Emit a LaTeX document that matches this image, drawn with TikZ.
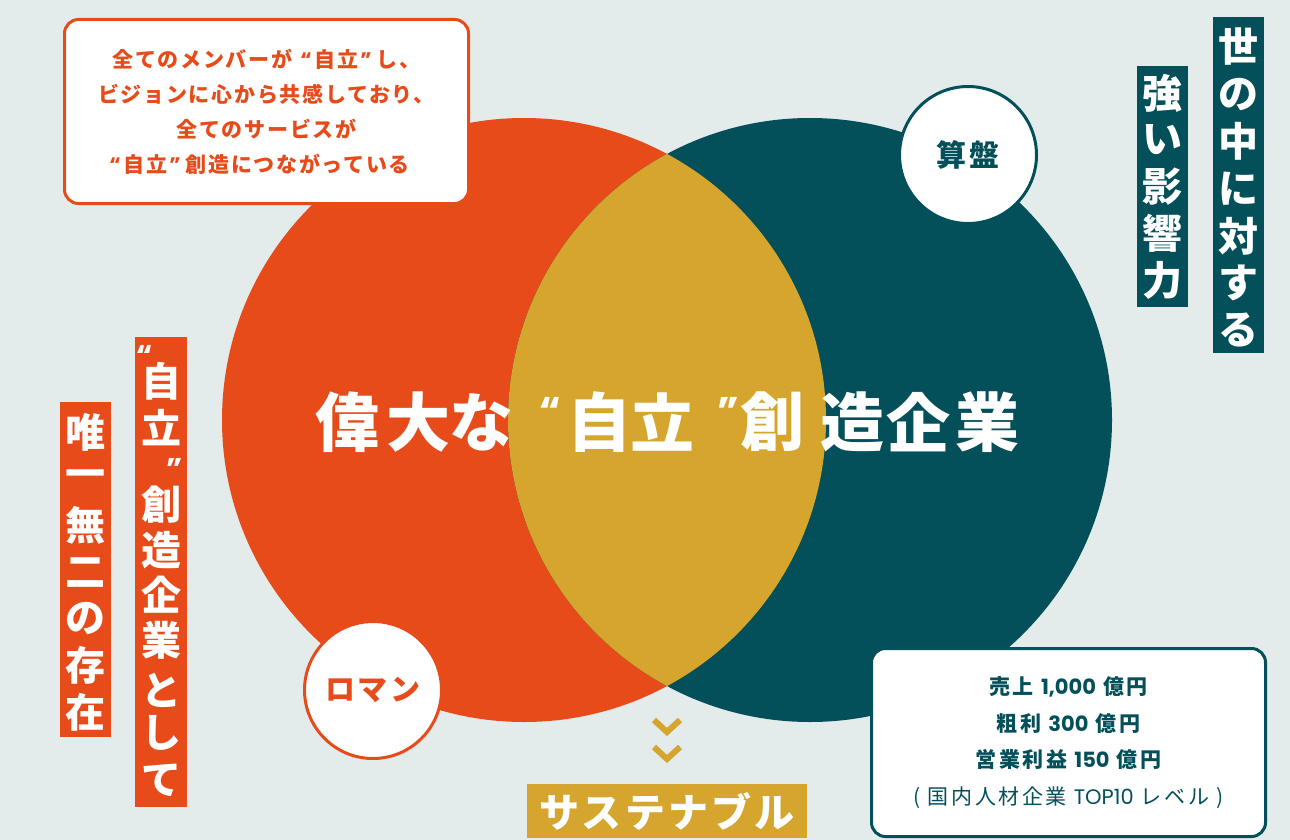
\documentclass[tikz,border=0pt]{standalone}
\usepackage{fontspec}
\setmainfont{Noto Sans CJK JP}
\newfontfamily\widejp{Noto Sans CJK JP}[LetterSpace=8]
\newfontfamily\widerjp{Noto Sans CJK JP}[LetterSpace=12]
\newfontfamily\latin{Poppins}
\newcommand{\openq}{{\latin “}}
\newcommand{\closeq}{{\latin ”}}
\definecolor{romanorange}{HTML}{E84B1A}
\definecolor{sorobanteal}{HTML}{03505A}
\definecolor{lensgold}{HTML}{D5A52D}
\definecolor{paper}{HTML}{E3EBEB}

\begin{document}
\begin{tikzpicture}[x=1pt, y=-1pt,
        tagcircle/.style={circle, draw=#1, fill=white, line width=3pt, minimum size=137pt, inner sep=0pt, text=#1, font=\widejp\bfseries\fontsize{30}{30}\selectfont},
        notebox/.style={draw=#1, fill=white, line width=3pt, rounded corners=14pt, text=#1, align=center, inner sep=0pt},
        vbar/.style={fill=#1, inner sep=0pt, minimum width=51pt},
        vchar/.style={text=white, inner sep=0pt, font=\bfseries\fontsize{40}{40}\selectfont},
        vquote/.style={text=white, inner sep=0pt, anchor=north, font=\bfseries\fontsize{30}{30}\selectfont},
        titlechar/.style={text=white, inner sep=0pt, font=\bfseries\fontsize{64}{64}\selectfont},
        titlequote/.style={text=white, inner sep=0pt, anchor=north, font=\bfseries\fontsize{40}{40}\selectfont},
        chevron/.style={draw=lensgold, line width=6pt, miter limit=10}]
        \fill[paper] (0,0) rectangle (1290,840);
        \useasboundingbox (0,0) rectangle (1290,840);
        \pgfmathsetmacro{\r}{302}
        \coordinate (L) at (524,420);
        \coordinate (R) at (810,420);
        \fill[romanorange] (L) circle (\r);
        \fill[sorobanteal] (R) circle (\r);
        \begin{scope}
            \clip (L) circle (\r);
            \fill[lensgold] (R) circle (\r);
        \end{scope}

        % title
        \foreach \ch/\x [count=\i] in {偉/347, 大/418.5, な/481, 自/599, 立/662.5, 創/772, 造/852.5, 企/918.5, 業/987}
            \node[titlechar] (vision-\i) at (\x,422) {\ch};
        \node[titlequote] (vision-open) at (550,397) {\openq};
        \node[titlequote] (vision-close) at (728.5,397) {\closeq};

        \node[tagcircle=sorobanteal] (soroban) at (968,155) {算盤};
        \node[tagcircle=romanorange] (roman) at (373,690) {ロマン};

        \node[notebox=romanorange, minimum width=404pt, minimum height=184pt, font=\widejp\bfseries\fontsize{21}{35}\selectfont] (mission) at (266.5,111.5)
        {全てのメンバーが\hspace{8pt}\openq\hspace{3pt}自立\hspace{2pt}\closeq\hspace{5pt}し、\\ビジョンに心から共感しており、\\全てのサービスが\\\openq\hspace{3pt}自立\hspace{2pt}\closeq\hspace{5pt}創造につながっている\makebox[14pt]{}};
        \node[notebox=sorobanteal, minimum width=394pt, minimum height=188pt, font=\widerjp\bfseries\fontsize{21}{36.5}\selectfont] (target) at (1068.5,742.5)
        {売上 {\latin 1,000} 億円\\粗利 {\latin 300} 億円\\営業利益 {\latin 150} 億円\\{\mdseries ( 国内人材企業 {\latin TOP10} レベル )}};

        % vertical labels
        \node[vbar=sorobanteal, minimum height=336pt] (reach) at (1238.5,185) {};
        \foreach \ch [count=\i] in {世,の,中,に,対,す,る}
            \node[vchar] (reach-\i) at ({1238.5},{47+(\i-1)*47.2}) {\ch};
        \node[vbar=sorobanteal, minimum height=241pt] (impact) at (1162.5,186.5) {};
        \foreach \ch [count=\i] in {強,い,影,響,力}
            \node[vchar] (impact-\i) at ({1162.5},{93+(\i-1)*46.75}) {\ch};
        \node[vbar=romanorange, minimum height=335pt] (unique) at (85.5,569.5) {};
        \foreach \ch [count=\i] in {唯,一,無,二,の,存,在}
            \node[vchar] (unique-\i) at ({85.5},{432+(\i-1)*46.7}) {\ch};
        \node[vbar=romanorange, minimum width=52pt, minimum height=470pt] (creator) at (161,572) {};
        \foreach \ch/\y [count=\i] in {自/381, 立/428, 創/505, 造/550, 企/595, 業/640, と/690, し/733, て/780}
            \node[vchar] (creator-\i) at (161,\y) {\ch};
        \node[vquote] (creator-open) at (145,345) {\openq};
        \node[vquote] (creator-close) at (175,458) {\closeq};

        \draw[chevron] (654,720) -- (667,732) -- (680,720);
        \draw[chevron] (654,747) -- (667,759) -- (680,747);
        \node[fill=lensgold, text=white, minimum width=280pt, minimum height=54pt, inner sep=0pt, font=\widejp\bfseries\fontsize{40}{40}\selectfont] (sustain) at (667,811) {サステナブル};
    \end{tikzpicture}
\end{document}
